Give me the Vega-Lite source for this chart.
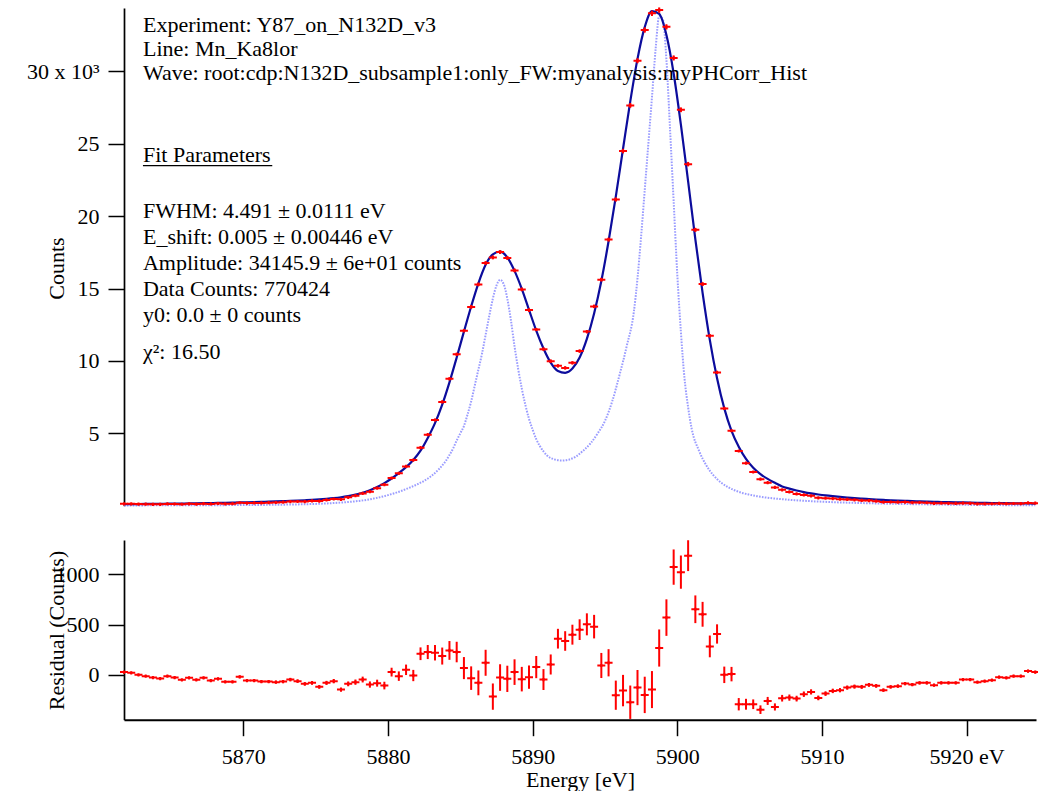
{
  "$schema": "https://vega.github.io/schema/vega-lite/v6.json",
  "padding": {"left": 26, "top": 4, "right": 2, "bottom": 0},
  "autosize": {"type": "pad"},
  "background": "white",
  "bounds": "flush",
  "spacing": 34,
  "resolve": {"scale": {"x": "independent", "y": "independent"}},
  "config": {
    "view": {"stroke": null},
    "font": "Liberation Serif",
    "axis": {
      "grid": false,
      "domainColor": "black",
      "tickColor": "black",
      "labelColor": "black",
      "titleColor": "black",
      "labelFont": "Liberation Serif",
      "titleFont": "Liberation Serif",
      "labelFontSize": 22,
      "titleFontSize": 22,
      "titleFontWeight": "normal",
      "tickSize": 16,
      "tickWidth": 1.5,
      "domainWidth": 1.7,
      "labelOverlap": false
    }
  },
  "datasets": {
    "pts": [
      {"e": 5861.75, "c": 132, "f": 105, "r": 27, "err": 11.5},
      {"e": 5862.25, "c": 130, "f": 110, "r": 20, "err": 11.4},
      {"e": 5862.75, "c": 115, "f": 115, "r": 0, "err": 10.7},
      {"e": 5863.25, "c": 107, "f": 120, "r": -13, "err": 10.3},
      {"e": 5863.75, "c": 98, "f": 125, "r": -27, "err": 9.9},
      {"e": 5864.25, "c": 94, "f": 131, "r": -37, "err": 9.7},
      {"e": 5864.75, "c": 124, "f": 137, "r": -13, "err": 11.1},
      {"e": 5865.25, "c": 116, "f": 143, "r": -27, "err": 10.8},
      {"e": 5865.75, "c": 100, "f": 150, "r": -50, "err": 10},
      {"e": 5866.25, "c": 127, "f": 157, "r": -30, "err": 11.3},
      {"e": 5866.75, "c": 115, "f": 165, "r": -50, "err": 10.7},
      {"e": 5867.25, "c": 143, "f": 173, "r": -30, "err": 12},
      {"e": 5867.75, "c": 125, "f": 182, "r": -57, "err": 11.2},
      {"e": 5868.25, "c": 151, "f": 191, "r": -40, "err": 12.3},
      {"e": 5868.75, "c": 131, "f": 201, "r": -70, "err": 11.4},
      {"e": 5869.25, "c": 142, "f": 212, "r": -70, "err": 11.9},
      {"e": 5869.75, "c": 203, "f": 223, "r": -20, "err": 14.2},
      {"e": 5870.25, "c": 178, "f": 235, "r": -57, "err": 13.3},
      {"e": 5870.75, "c": 191, "f": 248, "r": -57, "err": 13.8},
      {"e": 5871.25, "c": 195, "f": 262, "r": -67, "err": 14},
      {"e": 5871.75, "c": 210, "f": 277, "r": -67, "err": 14.5},
      {"e": 5872.25, "c": 220, "f": 293, "r": -73, "err": 14.8},
      {"e": 5872.75, "c": 244, "f": 311, "r": -67, "err": 15.6},
      {"e": 5873.25, "c": 284, "f": 331, "r": -47, "err": 16.9},
      {"e": 5873.75, "c": 290, "f": 353, "r": -63, "err": 17},
      {"e": 5874.25, "c": 288, "f": 378, "r": -90, "err": 17},
      {"e": 5874.75, "c": 327, "f": 407, "r": -80, "err": 18.1},
      {"e": 5875.25, "c": 320, "f": 440, "r": -120, "err": 17.9},
      {"e": 5875.75, "c": 398, "f": 478, "r": -80, "err": 20},
      {"e": 5876.25, "c": 462, "f": 525, "r": -63, "err": 21.5},
      {"e": 5876.75, "c": 438, "f": 585, "r": -147, "err": 20.9},
      {"e": 5877.25, "c": 575, "f": 665, "r": -90, "err": 24},
      {"e": 5877.75, "c": 692, "f": 765, "r": -73, "err": 26.3},
      {"e": 5878.25, "c": 848, "f": 895, "r": -47, "err": 29.1},
      {"e": 5878.75, "c": 968, "f": 1065, "r": -97, "err": 31.1},
      {"e": 5879.25, "c": 1207, "f": 1290, "r": -83, "err": 34.7},
      {"e": 5879.75, "c": 1453, "f": 1560, "r": -107, "err": 38.1},
      {"e": 5880.25, "c": 1907, "f": 1880, "r": 27, "err": 43.7},
      {"e": 5880.75, "c": 2237, "f": 2250, "r": -13, "err": 47.3},
      {"e": 5881.25, "c": 2710, "f": 2660, "r": 50, "err": 52.1},
      {"e": 5881.75, "c": 3153, "f": 3160, "r": -7, "err": 56.2},
      {"e": 5882.25, "c": 4010, "f": 3800, "r": 210, "err": 63.3},
      {"e": 5882.75, "c": 4907, "f": 4680, "r": 227, "err": 70},
      {"e": 5883.25, "c": 5920, "f": 5700, "r": 220, "err": 76.9},
      {"e": 5883.75, "c": 7167, "f": 6980, "r": 187, "err": 84.7},
      {"e": 5884.25, "c": 8763, "f": 8520, "r": 243, "err": 93.6},
      {"e": 5884.75, "c": 10457, "f": 10230, "r": 227, "err": 102.3},
      {"e": 5885.25, "c": 12087, "f": 12020, "r": 67, "err": 109.9},
      {"e": 5885.75, "c": 13727, "f": 13760, "r": -33, "err": 117.2},
      {"e": 5886.25, "c": 15280, "f": 15360, "r": -80, "err": 123.6},
      {"e": 5886.75, "c": 16760, "f": 16640, "r": 120, "err": 129.5},
      {"e": 5887.25, "c": 17143, "f": 17360, "r": -217, "err": 130.9},
      {"e": 5887.75, "c": 17513, "f": 17540, "r": -27, "err": 132.3},
      {"e": 5888.25, "c": 17110, "f": 17150, "r": -40, "err": 130.8},
      {"e": 5888.75, "c": 16247, "f": 16220, "r": 27, "err": 127.5},
      {"e": 5889.25, "c": 14937, "f": 14980, "r": -43, "err": 122.2},
      {"e": 5889.75, "c": 13507, "f": 13530, "r": -23, "err": 116.2},
      {"e": 5890.25, "c": 12167, "f": 12090, "r": 77, "err": 110.3},
      {"e": 5890.75, "c": 10813, "f": 10860, "r": -47, "err": 104},
      {"e": 5891.25, "c": 9983, "f": 9880, "r": 103, "err": 99.9},
      {"e": 5891.75, "c": 9660, "f": 9300, "r": 360, "err": 98.3},
      {"e": 5892.25, "c": 9517, "f": 9180, "r": 337, "err": 97.6},
      {"e": 5892.75, "c": 9870, "f": 9470, "r": 400, "err": 99.3},
      {"e": 5893.25, "c": 10680, "f": 10230, "r": 450, "err": 103.3},
      {"e": 5893.75, "c": 12023, "f": 11520, "r": 503, "err": 109.6},
      {"e": 5894.25, "c": 13760, "f": 13280, "r": 480, "err": 117.3},
      {"e": 5894.75, "c": 15613, "f": 15520, "r": 93, "err": 125},
      {"e": 5895.25, "c": 18380, "f": 18260, "r": 120, "err": 135.6},
      {"e": 5895.75, "c": 21147, "f": 21350, "r": -203, "err": 145.4},
      {"e": 5896.25, "c": 24493, "f": 24650, "r": -157, "err": 156.5},
      {"e": 5896.75, "c": 27647, "f": 27920, "r": -273, "err": 166.3},
      {"e": 5897.25, "c": 30733, "f": 30860, "r": -127, "err": 175.3},
      {"e": 5897.75, "c": 32850, "f": 33050, "r": -200, "err": 181.2},
      {"e": 5898.25, "c": 34003, "f": 34150, "r": -147, "err": 184.4},
      {"e": 5898.75, "c": 34227, "f": 33960, "r": 267, "err": 185},
      {"e": 5899.25, "c": 33070, "f": 32500, "r": 570, "err": 181.9},
      {"e": 5899.75, "c": 30923, "f": 29850, "r": 1073, "err": 175.8},
      {"e": 5900.25, "c": 27343, "f": 26320, "r": 1023, "err": 165.4},
      {"e": 5900.75, "c": 23587, "f": 22400, "r": 1187, "err": 153.6},
      {"e": 5901.25, "c": 19053, "f": 18400, "r": 653, "err": 138},
      {"e": 5901.75, "c": 15303, "f": 14700, "r": 603, "err": 123.7},
      {"e": 5902.25, "c": 11733, "f": 11450, "r": 283, "err": 108.3},
      {"e": 5902.75, "c": 9207, "f": 8800, "r": 407, "err": 96},
      {"e": 5903.25, "c": 6720, "f": 6720, "r": 0, "err": 82},
      {"e": 5903.75, "c": 5177, "f": 5170, "r": 7, "err": 72},
      {"e": 5904.25, "c": 3777, "f": 4070, "r": -293, "err": 61.5},
      {"e": 5904.75, "c": 2937, "f": 3230, "r": -293, "err": 54.2},
      {"e": 5905.25, "c": 2327, "f": 2620, "r": -293, "err": 48.2},
      {"e": 5905.75, "c": 1833, "f": 2180, "r": -347, "err": 42.8},
      {"e": 5906.25, "c": 1590, "f": 1850, "r": -260, "err": 39.9},
      {"e": 5906.75, "c": 1260, "f": 1580, "r": -320, "err": 35.5},
      {"e": 5907.25, "c": 1097, "f": 1330, "r": -233, "err": 33.1},
      {"e": 5907.75, "c": 953, "f": 1180, "r": -227, "err": 30.9},
      {"e": 5908.25, "c": 813, "f": 1050, "r": -237, "err": 28.5},
      {"e": 5908.75, "c": 747, "f": 940, "r": -193, "err": 27.3},
      {"e": 5909.25, "c": 680, "f": 850, "r": -170, "err": 26.1},
      {"e": 5909.75, "c": 545, "f": 775, "r": -230, "err": 23.3},
      {"e": 5910.25, "c": 523, "f": 710, "r": -187, "err": 22.9},
      {"e": 5910.75, "c": 495, "f": 655, "r": -160, "err": 22.2},
      {"e": 5911.25, "c": 452, "f": 605, "r": -153, "err": 21.3},
      {"e": 5911.75, "c": 433, "f": 560, "r": -127, "err": 20.8},
      {"e": 5912.25, "c": 403, "f": 520, "r": -117, "err": 20.1},
      {"e": 5912.75, "c": 365, "f": 485, "r": -120, "err": 19.1},
      {"e": 5913.25, "c": 355, "f": 455, "r": -100, "err": 18.8},
      {"e": 5913.75, "c": 315, "f": 425, "r": -110, "err": 17.7},
      {"e": 5914.25, "c": 247, "f": 400, "r": -153, "err": 15.7},
      {"e": 5914.75, "c": 255, "f": 375, "r": -120, "err": 16},
      {"e": 5915.25, "c": 242, "f": 355, "r": -113, "err": 15.6},
      {"e": 5915.75, "c": 248, "f": 335, "r": -87, "err": 15.7},
      {"e": 5916.25, "c": 218, "f": 315, "r": -97, "err": 14.8},
      {"e": 5916.75, "c": 220, "f": 300, "r": -80, "err": 14.8},
      {"e": 5917.25, "c": 205, "f": 285, "r": -80, "err": 14.3},
      {"e": 5917.75, "c": 167, "f": 270, "r": -103, "err": 12.9},
      {"e": 5918.25, "c": 177, "f": 257, "r": -80, "err": 13.3},
      {"e": 5918.75, "c": 165, "f": 245, "r": -80, "err": 12.8},
      {"e": 5919.25, "c": 154, "f": 234, "r": -80, "err": 12.4},
      {"e": 5919.75, "c": 176, "f": 223, "r": -47, "err": 13.3},
      {"e": 5920.25, "c": 166, "f": 213, "r": -47, "err": 12.9},
      {"e": 5920.75, "c": 131, "f": 204, "r": -73, "err": 11.4},
      {"e": 5921.25, "c": 132, "f": 195, "r": -63, "err": 11.5},
      {"e": 5921.75, "c": 134, "f": 187, "r": -53, "err": 11.6},
      {"e": 5922.25, "c": 156, "f": 179, "r": -23, "err": 12.5},
      {"e": 5922.75, "c": 142, "f": 172, "r": -30, "err": 11.9},
      {"e": 5923.25, "c": 152, "f": 165, "r": -13, "err": 12.3},
      {"e": 5923.75, "c": 145, "f": 158, "r": -13, "err": 12},
      {"e": 5924.25, "c": 189, "f": 152, "r": 37, "err": 13.7},
      {"e": 5924.75, "c": 173, "f": 146, "r": 27, "err": 13.2}
    ],
    "intr": [
      {"e": 5861.75, "v": 20}, {"e": 5864, "v": 24}, {"e": 5866, "v": 29}, {"e": 5868, "v": 36},
      {"e": 5870, "v": 46}, {"e": 5871.5, "v": 57}, {"e": 5873, "v": 75}, {"e": 5874, "v": 95},
      {"e": 5875, "v": 125}, {"e": 5876, "v": 170}, {"e": 5877, "v": 235}, {"e": 5878, "v": 330},
      {"e": 5878.5, "v": 400}, {"e": 5879, "v": 490}, {"e": 5879.5, "v": 600}, {"e": 5880, "v": 730},
      {"e": 5880.5, "v": 880}, {"e": 5881, "v": 1050}, {"e": 5881.5, "v": 1250}, {"e": 5882, "v": 1460},
      {"e": 5882.5, "v": 1720}, {"e": 5883, "v": 2050}, {"e": 5883.5, "v": 2500}, {"e": 5884, "v": 3100},
      {"e": 5884.25, "v": 3500}, {"e": 5884.5, "v": 3950}, {"e": 5884.75, "v": 4500}, {"e": 5885, "v": 5000},
      {"e": 5885.25, "v": 5500}, {"e": 5885.5, "v": 6300}, {"e": 5885.75, "v": 7200}, {"e": 5886, "v": 8300},
      {"e": 5886.25, "v": 9400}, {"e": 5886.5, "v": 10500}, {"e": 5886.75, "v": 11800}, {"e": 5887, "v": 13100},
      {"e": 5887.25, "v": 14300}, {"e": 5887.5, "v": 15200}, {"e": 5887.75, "v": 15600}, {"e": 5888, "v": 15300},
      {"e": 5888.25, "v": 14300}, {"e": 5888.5, "v": 12800}, {"e": 5888.75, "v": 11000}, {"e": 5889, "v": 9450},
      {"e": 5889.25, "v": 8100}, {"e": 5889.5, "v": 6950}, {"e": 5889.75, "v": 6000}, {"e": 5890, "v": 5250},
      {"e": 5890.25, "v": 4600}, {"e": 5890.5, "v": 4120}, {"e": 5890.75, "v": 3750}, {"e": 5891, "v": 3470},
      {"e": 5891.5, "v": 3200}, {"e": 5892, "v": 3120}, {"e": 5892.5, "v": 3180}, {"e": 5893, "v": 3400},
      {"e": 5893.5, "v": 3800}, {"e": 5894, "v": 4300}, {"e": 5894.5, "v": 5000}, {"e": 5895, "v": 5850},
      {"e": 5895.5, "v": 7200}, {"e": 5896, "v": 9000}, {"e": 5896.5, "v": 11000}, {"e": 5897, "v": 13400},
      {"e": 5897.25, "v": 15700}, {"e": 5897.5, "v": 18600}, {"e": 5897.75, "v": 21800}, {"e": 5898, "v": 25000},
      {"e": 5898.25, "v": 28200}, {"e": 5898.5, "v": 31500}, {"e": 5898.75, "v": 33800}, {"e": 5899, "v": 33600},
      {"e": 5899.25, "v": 30800}, {"e": 5899.5, "v": 26000}, {"e": 5899.75, "v": 21000}, {"e": 5900, "v": 16000},
      {"e": 5900.25, "v": 12000}, {"e": 5900.5, "v": 8800}, {"e": 5900.75, "v": 6800}, {"e": 5901, "v": 5300},
      {"e": 5901.5, "v": 3800}, {"e": 5902, "v": 2800}, {"e": 5902.5, "v": 2100}, {"e": 5903, "v": 1620},
      {"e": 5903.5, "v": 1290}, {"e": 5904, "v": 1050}, {"e": 5904.5, "v": 880}, {"e": 5905, "v": 760},
      {"e": 5905.5, "v": 660}, {"e": 5906, "v": 580}, {"e": 5907, "v": 470}, {"e": 5908, "v": 390},
      {"e": 5909, "v": 325}, {"e": 5910, "v": 275}, {"e": 5911, "v": 235}, {"e": 5912, "v": 203},
      {"e": 5913, "v": 175}, {"e": 5915, "v": 130}, {"e": 5917, "v": 95}, {"e": 5919, "v": 70},
      {"e": 5921, "v": 50}, {"e": 5923, "v": 36}, {"e": 5924.75, "v": 28}
    ],
    "ann": [
      {"e": 5863.06, "y": 32693, "t": "Experiment: Y87_on_N132D_v3"},
      {"e": 5863.06, "y": 31056, "t": "Line: Mn_Ka8lor"},
      {"e": 5863.06, "y": 29399, "t": "Wave: root:cdp:N132D_subsample1:only_FW:myanalysis:myPHCorr_Hist"},
      {"e": 5863.06, "y": 23715, "t": "Fit Parameters"},
      {"e": 5863.06, "y": 19868, "t": "FWHM: 4.491 ± 0.0111 eV"},
      {"e": 5863.06, "y": 18073, "t": "E_shift: 0.005 ± 0.00446 eV"},
      {"e": 5863.06, "y": 16277, "t": "Amplitude: 34145.9 ± 6e+01 counts"},
      {"e": 5863.06, "y": 14482, "t": "Data Counts: 770424"},
      {"e": 5863.06, "y": 12686, "t": "y0: 0.0 ± 0 counts"},
      {"e": 5863.06, "y": 10131, "t": "χ²: 16.50"}
    ],
    "ul": [
      {"e": 5863.06, "e2": 5872.0, "y": 23481}
    ]
  },
  "vconcat": [
    {
      "width": 912,
      "height": 497.7,
      "encoding": {
        "x": {"field": "e", "type": "quantitative", "scale": {"domain": [5861.75, 5924.8], "nice": false, "zero": false}, "axis": null}
      },
      "layer": [
        {
          "mark": {"type": "rule", "color": "black", "strokeWidth": 2, "strokeDash": [2, 2]},
          "encoding": {"x": null, "y": {"datum": 0, "type": "quantitative", "scale": {"domain": [0, 34372], "nice": false, "zero": false}, "axis": {"values": [5000, 10000, 15000, 20000, 25000, 30000], "labelExpr": "datum.value == 30000 ? '30 x 10³' : format(datum.value / 1000, 'd')", "title": "Counts", "titleX": -56, "titleY": 260, "labelPadding": 9}}}
        },
        {
          "data": {"name": "intr"},
          "mark": {"type": "line", "color": "#9a9cff", "strokeWidth": 2, "strokeDash": [1.6, 1.3], "interpolate": "monotone"},
          "encoding": {"y": {"field": "v", "type": "quantitative", "scale": {"domain": [0, 34372], "nice": false, "zero": false}, "axis": {"values": [5000, 10000, 15000, 20000, 25000, 30000], "labelExpr": "datum.value == 30000 ? '30 x 10³' : format(datum.value / 1000, 'd')", "title": "Counts", "titleX": -56, "titleY": 260, "labelPadding": 9}}}
        },
        {
          "data": {"name": "pts"},
          "mark": {"type": "line", "color": "#0c0c9c", "strokeWidth": 2.2, "interpolate": "monotone"},
          "encoding": {"y": {"field": "f", "type": "quantitative", "scale": {"domain": [0, 34372], "nice": false, "zero": false}, "axis": {"values": [5000, 10000, 15000, 20000, 25000, 30000], "labelExpr": "datum.value == 30000 ? '30 x 10³' : format(datum.value / 1000, 'd')", "title": "Counts", "titleX": -56, "titleY": 260, "labelPadding": 9}}}
        },
        {
          "data": {"name": "pts"},
          "mark": {"type": "errorbar", "color": "#ff0000", "thickness": 2},
          "encoding": {"y": {"field": "c", "type": "quantitative", "scale": {"domain": [0, 34372], "nice": false, "zero": false}, "axis": {"values": [5000, 10000, 15000, 20000, 25000, 30000], "labelExpr": "datum.value == 30000 ? '30 x 10³' : format(datum.value / 1000, 'd')", "title": "Counts", "titleX": -56, "titleY": 260, "labelPadding": 9}}, "yError": {"field": "err"}}
        },
        {
          "data": {"name": "pts"},
          "mark": {"type": "point", "shape": "M-1,0L1,0M0,-0.4L0,0.4", "filled": false, "size": 64, "strokeWidth": 2, "color": "#ff0000", "opacity": 1},
          "encoding": {"y": {"field": "c", "type": "quantitative", "scale": {"domain": [0, 34372], "nice": false, "zero": false}, "axis": {"values": [5000, 10000, 15000, 20000, 25000, 30000], "labelExpr": "datum.value == 30000 ? '30 x 10³' : format(datum.value / 1000, 'd')", "title": "Counts", "titleX": -56, "titleY": 260, "labelPadding": 9}}}
        },
        {
          "data": {"name": "ann"},
          "mark": {"type": "text", "align": "left", "baseline": "alphabetic", "fontSize": 22, "font": "Liberation Serif", "color": "black"},
          "encoding": {"y": {"field": "y", "type": "quantitative", "scale": {"domain": [0, 34372], "nice": false, "zero": false}, "axis": {"values": [5000, 10000, 15000, 20000, 25000, 30000], "labelExpr": "datum.value == 30000 ? '30 x 10³' : format(datum.value / 1000, 'd')", "title": "Counts", "titleX": -56, "titleY": 260, "labelPadding": 9}}, "text": {"field": "t"}}
        },
        {
          "data": {"name": "ul"},
          "mark": {"type": "rule", "color": "black", "strokeWidth": 1.2},
          "encoding": {"x2": {"field": "e2"}, "y": {"field": "y", "type": "quantitative", "scale": {"domain": [0, 34372], "nice": false, "zero": false}, "axis": {"values": [5000, 10000, 15000, 20000, 25000, 30000], "labelExpr": "datum.value == 30000 ? '30 x 10³' : format(datum.value / 1000, 'd')", "title": "Counts", "titleX": -56, "titleY": 260, "labelPadding": 9}}}
        }
      ]
    },
    {
      "width": 912,
      "height": 179.7,
      "encoding": {
        "x": {"field": "e", "type": "quantitative", "scale": {"domain": [5861.75, 5924.8], "nice": false, "zero": false},
          "axis": {"values": [5870, 5880, 5890, 5900, 5910, 5920], "format": "d", "labelExpr": "datum.value == 5920 ? '5920 eV' : datum.label", "title": "Energy [eV]", "labelPadding": 11, "titlePadding": 2, "domainWidth": 2}}
      },
      "layer": [
        {
          "mark": {"type": "rule", "color": "black", "strokeWidth": 1.5, "strokeDash": [2, 2]},
          "encoding": {"x": null, "y": {"datum": 0, "type": "quantitative", "scale": {"domain": [-447, 1343], "nice": false, "zero": false}, "axis": {"values": [0, 500, 1000], "format": "d", "title": "Residual (Counts)", "titleX": -56, "titleY": 90, "labelPadding": 9}}}
        },
        {
          "data": {"name": "pts"},
          "mark": {"type": "errorbar", "color": "#ff0000", "thickness": 2},
          "encoding": {"y": {"field": "r", "type": "quantitative", "scale": {"domain": [-447, 1343], "nice": false, "zero": false}, "axis": {"values": [0, 500, 1000], "format": "d", "title": "Residual (Counts)", "titleX": -56, "titleY": 90, "labelPadding": 9}}, "yError": {"field": "err"}}
        },
        {
          "data": {"name": "pts"},
          "mark": {"type": "point", "shape": "M-1,0L1,0M0,-0.4L0,0.4", "filled": false, "size": 64, "strokeWidth": 2, "color": "#ff0000", "opacity": 1},
          "encoding": {"y": {"field": "r", "type": "quantitative", "scale": {"domain": [-447, 1343], "nice": false, "zero": false}, "axis": {"values": [0, 500, 1000], "format": "d", "title": "Residual (Counts)", "titleX": -56, "titleY": 90, "labelPadding": 9}}}
        }
      ]
    }
  ]
}
